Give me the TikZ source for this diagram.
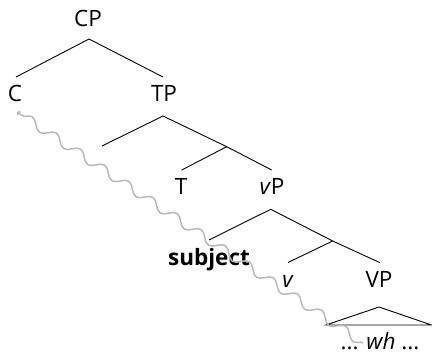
\documentclass[tikz,border=0pt]{standalone}
\usepackage{fontspec}
\setmainfont{Open Sans}
\usetikzlibrary{decorations.pathmorphing,arrows.meta}
\begin{document}
\begin{tikzpicture}[x=1pt,y=-1pt,
  lbl/.style={anchor=base,inner sep=0pt,font=\fontsize{22.5}{26}\selectfont},
  branch/.style={line width=0.9pt,black},
  movement/.style={draw=black!28,line width=1.5pt,decorate,
    decoration={snake,segment length=29pt,amplitude=4.5pt,post length=4pt},
    -{To[length=3pt,width=5pt]}}]
\useasboundingbox (0,0) rectangle (432,356);
% labels
\node[lbl] (CP) at (88,26.7) {CP};
\node[lbl] (C) at (15,101.7) {C};
\node[lbl] (TP) at (164,101.7) {TP};
\node[lbl] (T) at (181,194) {T};
\node[lbl] (vP) at (272,194) {\textit{v}P};
\node[lbl] (subj) at (209,265) {\textbf{subject}};
\node[lbl] (v) at (288,287.7) {\textit{v}};
\node[lbl] (VP) at (379,287.7) {VP};
\node[lbl] (wh) at (380,349.5) {... \textit{wh} ...};
% joints
\coordinate (cpB) at (89,39);
\coordinate (cT) at (16,77);
\coordinate (tpT) at (163,77);
\coordinate (tpB) at (163,116);
\coordinate (specT) at (102,146);
\coordinate (tbar) at (226.7,146.7);
\coordinate (tT) at (181.7,170);
\coordinate (vpT) at (271.7,170);
\coordinate (vpB) at (270.7,209.3);
\coordinate (subjT) at (209,240);
\coordinate (vbar) at (332.7,241);
\coordinate (vT) at (288,262.5);
\coordinate (VPT) at (380,262.7);
\coordinate (triA) at (379,307);
\coordinate (triL) at (326,325);
\coordinate (triR) at (431.5,325);
\coordinate (mvS) at (363,343);
\coordinate (mvE) at (17,112);
% branches
\draw[branch] (cT) -- (cpB) -- (tpT);
\draw[branch] (specT) -- (tpB) -- (tbar) -- (vpT);
\draw[branch] (tbar) -- (tT);
\draw[branch] (subjT) -- (vpB) -- (vbar) -- (VPT);
\draw[branch] (vbar) -- (vT);
\draw[branch] (triL) -- (triA) -- (triR) -- cycle;
% movement
\draw[movement] (mvS) -- (mvE);
\end{tikzpicture}
\end{document}
